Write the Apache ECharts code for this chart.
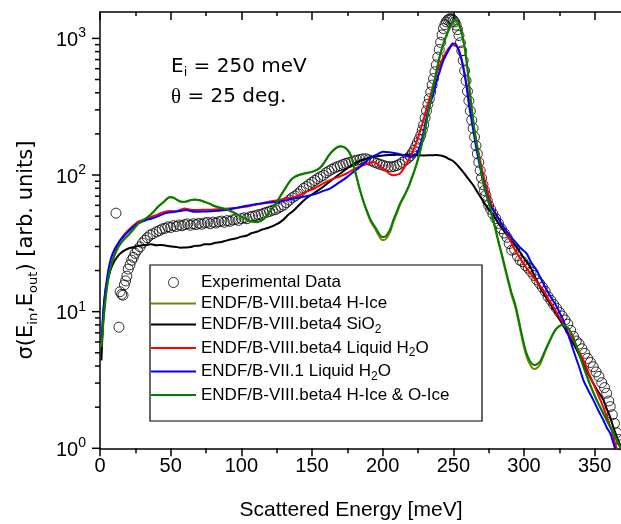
<!DOCTYPE html>
<html><head><meta charset="utf-8">
<script src="https://cdn.jsdelivr.net/npm/echarts@6/dist/echarts.min.js"></script>
<style>html,body{margin:0;padding:0;background:#fff}#c{width:621px;height:524px}</style>
</head><body><div id="c"></div><script>
const FONT = 'Liberation Sans, Arial, sans-serif';
const WIDE = 'DejaVu Sans, Verdana, sans-serif';

const expData = [[11.3,52.6],[13.4,7.7],
[14.2,14],[15.3,13.4],[16.3,13.2],[17.2,15.7],[18.1,16.8],[19,18.2],[20,20.5],[21.2,22],[22.4,23.8],[23.6,25],[24.8,26.7],[26.5,28.3],[28.3,29.8],[30,31.8],[31.8,33.4],[33.5,34.8],[35.4,36.3],[37.5,37.2],[40,38.4],[42,39.2],[44,40.3],[46,40.7],[48,41.8],[50,41.3],[52,42.6],[54,42],[56,43.1],[58,42.5],[60,43.4],[62,43.9],[64,42.9],[66,44],[68,43.4],[70,44.3],[72,43.6],[74,44.6],[76,45],[78,44],[80,45.2],[82,44.5],[84,45.5],[86,46],[88,45.1],[90,46.4],[92,45.8],[94,47],[96,47.4],[98,46.5],[100,48],[102,48.6],[104,47.9],[106,49.4],[108,49.9],[110,50.4],[112,51.2],[114,51.6],[116,52.6],[118,53.4],[120,54.2],[122,55.3],[124,55.8],[126,57.2],[128,58.8],[130,60.2],[132,62.8],[134,65.6],[136,68.2],[138,70.2],[140,72.8],[142,76.2],[144,79.8],[146,82.3],[148,85.4],[150,88.4],[152,91.2],[154,94.3],[156,97.2],[158,99.5],[160,104],[162,107],[164,110.2],[166,112.8],[168,115.2],[170,117],[172,119.5],[174,121.6],[176,123.2],[178,125],[180,127.2],[182,128.6],[184,130],[186,131.2],[188,131.5],[190,129.4],[192,127],[194,124.2],[196,122],[198,120],[200,118],[202,116.2],[204,115],[206,114.8],[208,115.6],[210,117.4],[212,120],[214,124],[216,128.5],[218,133],[219.5,138],[221,145],[222.2,152],[223.4,162],[224.6,172],[225.8,183],[227,196],[228,213],[229,233],[230,262],[231,295],[232,330],[233,362],[234,405],[235,455],[236,508],[237,570],[238,640],[239,730],[240,830],[241,935],[242,1060],[243,1180],[244,1260],[245,1320],[246,1360],[247,1385],[248,1392],[249,1385],[250,1360],[251,1320],[252,1250],[253,1160],[254,1050],[255,930],[256,810],[257,690],[258,580],[259,490],[260,410],[261,350],[262,295],[263,252],[264,220],[265,190],[266,164],[267,143],[268,124],[269,108],[270,95],[271,85],[272,77],[273,71],[274,65],[275,60],[276.5,56],[278,52],[280,48],[282,44.2],[284,40.5],[286,37.6],[288,35],[289.5,31.5],[291.3,28.2],[293.3,28.6],[295.3,25.6],[297.2,23.8],[299,23.2],[301,21.8],[303,20.8],[305,19.6],[307,18.4],[309,17.1],[311,16.1],[313,15.1],[315,14.1],[317,12.9],[319,12.1],[321,11.3],[323,10.6],[325,9.9],[327,9.3],[329,8.7],[331,8.1],[333,7.3],[335,6.6],[337,6.1],[339,5.8],[341,5.35],[343,4.95],[345,4.55],[347,4.25],[349,3.95],[351,3.62],[353,3.36],[355,3.02],[357,2.78],[358.5,2.53],[360,2.22],[361,2.02],[362.5,1.76],[364,1.52],[365.6,1.3],[367,1.16],[368.5,1.06],[370,0.98]];

const hIce = [[1,5.4],[2,7.5],[3,9.9],[4.5,13.9],[6,17.7],[8,21.9],[10,25.4],[13,29.7],[16,32.9],[20,36.2],[24,40.4],[27,43.9],[31,46.9],[34,49.4],[38,53.9],[41,58.4],[45,63.4],[49.5,68.8],[52,68.1],[55,65.3],[58,63.6],[61,63.8],[64,65.3],[67,66],[70,65.4],[74,63.5],[78,61.3],[81,59.1],[86,57.3],[91,55.2],[95,52.8],[98,50.7],[102,48.4],[105,46.6],[108,45.4],[111,45.2],[114,46.2],[117,48.8],[120,53.5],[123,58.7],[126,65.7],[129,73.7],[132,82.6],[135,91.6],[138,97.1],[141,100.1],[145,102.6],[149,104.6],[153,108.2],[156,113.5],[159,124.5],[162,139.4],[165,151.4],[168,159.4],[170,162],[172,160.8],[174,156.3],[176,148.3],[178,134.3],[180,111.4],[182,92.2],[184,76.6],[186.5,63],[188.7,54.2],[191.5,45.8],[194.6,40.4],[197,36.4],[199.3,33.6],[201,33.4],[203,34.8],[205.5,38.8],[207.5,45],[210,52.4],[212.3,60.6],[215,68.8],[218.2,81],[221,97],[224.1,120.5],[226.5,149],[228.8,188.5],[231,243],[233.5,331],[236,446],[238.2,580],[240.5,744],[243,912],[245.5,1072],[247.7,1205],[249.5,1312],[251.2,1366],[253,1312],[254.7,1205],[256.5,1024],[258.3,814],[260,596],[261.8,392],[263.5,278],[265,210],[266.5,168],[268.5,126],[271,89],[273.5,70],[276,57.5],[278,47.2],[279.5,41],[282,31.8],[284.2,26],[286.5,20.6],[288.9,16.4],[291,13.4],[293.6,11],[296,8.6],[298.3,6.6],[300,5.5],[301.8,4.7],[304,4.15],[306,3.86],[307.7,3.8],[309.5,3.9],[311.3,4.1],[313.5,4.65],[316,5.4],[319,6.32],[321.9,7.24],[324.5,7.75],[326.7,7.95],[329,7.86],[331.4,7.5],[333,7.05],[334.9,6.45],[337,5.56],[339.7,4.64],[342.5,3.82],[345.5,3.14],[348.5,2.63],[351.4,2.24],[355,1.89],[358.5,1.6],[362,1.36],[365.6,1.14],[369,0.97]];

const sio2 = [[1,4.4],[1.8,7],[2.5,10.3],[4,14.5],[6,18],[8,21],[10.6,23.8],[14,26.5],[17.7,28.2],[21,29.2],[24.8,29.8],[28,30.4],[31.8,30.7],[36,31.1],[40,30.6],[43.6,30.8],[48,30.2],[53,29.9],[57,29.4],[60,29.5],[64,29.7],[67,30.3],[71,30.5],[74,31.2],[78,31.2],[81,31.8],[86,32.4],[91,33.5],[96,34.3],[100,35.4],[104,36.1],[107,37.5],[111,38.4],[114,39.6],[119,41.1],[124,43.1],[129,46.4],[133,50.9],[137,55],[140,59],[146,67.5],[152,74.5],[158,82],[164,92],[170,102.6],[176,114],[181.6,124],[187,130.5],[193,135.5],[199,138.5],[205,140],[211,140.5],[217,140],[223,139.5],[229,139],[234,139.5],[238,140],[241,139],[244,136],[247,131],[250,126],[253.5,116],[257,105],[260.5,94],[264,84.5],[267,75],[270,67],[274,58],[278,51.5],[281.5,45],[285.4,39.5],[290,34],[294.8,29.8],[299.5,25],[304.3,21.3],[308,17.8],[311.3,15.2],[315,13],[318.4,11.5],[322,10],[325.5,8.7],[330,7.2],[334.9,5.86],[338.5,4.95],[342,4.19],[345.5,3.5],[349,2.99],[352.5,2.6],[356.1,2.26],[358.5,1.95],[360.9,1.7],[363,1.45],[365.6,1.22],[369,1.0]];

const liqH2O8 = [[1,5.5],[2,8],[3.5,12.2],[5,16.5],[7,20.5],[8.3,22.6],[10.5,27],[13,31.6],[16,35.5],[20,39.5],[24,43],[27,45.5],[32,47.5],[36.6,49.5],[41,51.5],[46,53.8],[50,54.5],[53,54.2],[56,55.2],[60,57],[63,56],[67,55.4],[72,55.6],[79,55.8],[85,56.4],[91,57],[97,57.6],[102.6,58.5],[108,60],[114.4,62],[120,64],[126,65.5],[132,67.5],[138,69.2],[146,75.4],[152,80],[158,86.8],[164,93],[170,98],[174.5,102.6],[180,111],[186,118],[190,122],[193.4,124.5],[196,121],[198,116],[200.5,111.7],[203,106],[205.5,101],[207.5,99.8],[210,100.5],[212.3,102.6],[214.5,110],[217,121.6],[219.5,136],[221.7,152],[223.5,170],[225.2,190],[227,218],[228.8,252],[231,305],[233.5,373],[236,460],[238.2,554],[240.5,640],[243,732],[245.5,810],[247.7,867],[250,892],[251.8,880],[253.5,843],[255.3,740],[257.1,619],[259.5,450],[261.8,315],[264,235],[266.5,172],[269,128],[271.2,100],[274,78],[276.5,63],[278.3,55.4],[282,47.5],[285.4,41.8],[289,35.5],[292.4,29.8],[296,25.8],[299.5,22.6],[303,20],[306.6,18],[310,16],[313.6,14.4],[317,12.5],[320.7,10.9],[324,9.5],[327.8,8.2],[331,7.1],[334.9,6.2],[338.5,5.2],[342,4.43],[345.5,3.6],[349,2.99],[352.5,2.45],[356.1,2.0],[359,1.65],[362,1.36],[364.4,1.09],[366,0.95]];

const liqH2O7 = [[1,5.9],[2,9],[3.5,13.5],[5,17.5],[5.9,20.2],[8,25],[10.6,29],[14,33],[17.7,36.3],[22,40.5],[27,44.3],[32,46.5],[36.6,48.1],[41,50],[46,52.4],[50,53.5],[53,53.8],[57,54.5],[61.3,55.4],[64,54.5],[67,53.8],[72,54],[79,54.2],[85,55],[90.8,55.8],[97,57.5],[102.6,59.3],[108,60.5],[114.4,62],[120,63],[126,63.7],[132,65.5],[138,67.5],[146,70],[152,72.5],[158,76.5],[163,80],[169.8,89],[175,97],[181.6,110],[186.3,120],[191,133],[195.7,141],[200.5,148],[205,146.5],[209.9,144],[214,140],[219.3,136],[222,138],[224.1,144],[226,158],[227.6,180],[229.5,220],[231.1,266],[233.5,330],[235.9,395],[238.2,490],[240.6,585],[243,690],[245.3,770],[247.5,850],[249.5,918],[251,915],[252.3,892],[254,800],[255.9,692],[257.7,560],[259.4,442],[261,330],[262.9,252],[264.7,195],[266.5,152],[268.5,120],[271.2,90],[274,70],[276.5,59],[278.3,55.4],[282,48],[285.4,41.8],[290,36],[294.8,31.6],[298,29],[301.8,26.7],[305,23],[308.9,20.2],[312.5,17],[316,14.4],[319.5,12.5],[323.1,10.9],[325.5,9.7],[327.8,8.7],[330,7.4],[332.6,6.2],[335,5.2],[337.3,4.43],[339.7,3.75],[342,3.16],[345.5,2.65],[349,2.26],[352.5,1.9],[356.1,1.61],[358.5,1.42],[360.9,1.29],[363.3,1.09],[365,0.95]];

const hoIce = [[1,5.5],[2,7.6],[3,10],[4.5,14],[6,17.8],[8,22],[10,25.5],[13,29.8],[16,33],[20,36.3],[24,40.5],[27,44],[31,47],[34,49.5],[38,54],[41,58.5],[45,63.5],[49.5,69],[52,68.3],[55,65.5],[58,63.8],[61,64],[64,65.5],[67,66.2],[70,65.6],[74,63.7],[78,61.5],[81,59.3],[86,57.5],[91,55.4],[95,53],[98,50.9],[102,48.6],[105,46.8],[108,45.6],[111,45.4],[114,46.4],[117,49],[120,53.8],[123,59],[126,66],[129,74],[132,83],[135,92],[138,97.5],[141,100.5],[145,103],[149,105],[153,108.6],[156,114],[159,125],[162,140],[165,152],[168,160],[170,162.7],[172,161.5],[174,157],[176,149],[178,135],[180,112],[182,93],[184,77.6],[186.5,64],[188.7,55.4],[191.5,47],[194.6,41.8],[197,38],[199.3,35.3],[201,35.2],[203,36.5],[205.5,40.5],[207.5,46.8],[210,54],[212.3,62],[215,70],[218.2,82],[221,98],[224.1,121.6],[226.5,150],[228.8,190],[231,245],[233.5,334],[236,450],[238.2,585],[240.5,750],[243,918],[245.5,1080],[247.7,1213],[249.5,1320],[251.2,1375],[253,1320],[254.7,1213],[256.5,1030],[258.3,820],[260,600],[261.8,395],[263.5,280],[265,212],[266.5,170],[268.5,128],[271,90],[273.5,71],[276,58.5],[278,48],[279.5,41.8],[282,32.5],[284.2,26.7],[286.5,21.3],[288.9,17],[291,14],[293.6,11.5],[296,9],[298.3,6.9],[300,5.8],[301.8,4.95],[304,4.4],[306,4.12],[307.7,4.07],[309.5,4.15],[311.3,4.3],[313.5,4.8],[316,5.5],[319,6.4],[321.9,7.3],[324.5,7.8],[326.7,8.0],[329,7.9],[331.4,7.55],[333,7.1],[334.9,6.5],[337,5.6],[339.7,4.68],[342.5,3.85],[345.5,3.16],[348.5,2.65],[351.4,2.26],[355,1.9],[358.5,1.61],[362,1.37],[365.6,1.15],[369,0.98]];

const seriesNames = ['Experimental Data','ENDF/B-VIII.beta4 H-Ice','ENDF/B-VIII.beta4 SiO2','ENDF/B-VIII.beta4 Liquid H2O','ENDF/B-VII.1 Liquid H2O','ENDF/B-VIII.beta4 H-Ice & O-Ice'];
const legendRich = {
  'ENDF/B-VIII.beta4 SiO2': '{t|ENDF/B-VIII.beta4 SiO}{u|2}',
  'ENDF/B-VIII.beta4 Liquid H2O': '{t|ENDF/B-VIII.beta4 Liquid H}{u|2}{t|O}',
  'ENDF/B-VII.1 Liquid H2O': '{t|ENDF/B-VII.1 Liquid H}{u|2}{t|O}'
};
const yMajorTicks = [1, 10, 100, 1000];
const yMinorTicks = [2,3,4,5,6,7,8,9,20,30,40,50,60,70,80,90,200,300,400,500,600,700,800,900];
const xMin = 0, xMax = 375, xStep = 50;
const yMin = 1, yMax = 1560;

const chart = echarts.init(document.getElementById('c'), null, {renderer:'canvas'});

function lineSeries(name, data, color){
  return {name, type:'line', data, symbol:'none', showSymbol:false, smooth:0.35,
    lineStyle:{color, width:2}, itemStyle:{color}, z:3, animation:false, silent:true};
}
function tickSeries(vals, len){
  return {type:'custom', coordinateSystem:'cartesian2d', silent:true, clip:false, z:5,
    data: vals.map(v => [xMin, v]),
    renderItem:(params, api) => {
      const p = api.coord([api.value(0), api.value(1)]);
      return {type:'line', shape:{x1:p[0]-len, y1:p[1], x2:p[0], y2:p[1]}, style:{stroke:'#000', lineWidth:1.5}};
    }};
}

const legendData = seriesNames.map((n, i) => i === 0
  ? {name:n, itemStyle:{color:'rgba(0,0,0,0)', borderColor:'#000', borderWidth:1}}
  : {name:n, itemStyle:{color:'rgba(0,0,0,0)', borderColor:'rgba(0,0,0,0)', borderWidth:0, opacity:0}});

chart.setOption({
  animation:false,
  backgroundColor:'#fff',
  grid:{left:100, top:12, width:530, height:436.3, outerBoundsMode:'none', containLabel:false},
  xAxis:[{
    type:'value', min:xMin, max:xMax, interval:xStep, position:'bottom',
    axisLine:{show:true, onZero:false, lineStyle:{color:'#000', width:1.5}},
    axisTick:{show:true, inside:false, length:8, lineStyle:{color:'#000', width:1.5}},
    minorTick:{show:true, splitNumber:2, length:5, lineStyle:{color:'#000', width:1.5}},
    axisLabel:{show:true, color:'#000', fontSize:20, fontFamily:FONT, margin:8, showMaxLabel:false},
    splitLine:{show:false}, minorSplitLine:{show:false}
  },{
    type:'value', min:xMin, max:xMax, interval:xStep, position:'top',
    axisLine:{show:true, onZero:false, lineStyle:{color:'#000', width:1.5}},
    axisTick:{show:true, inside:true, length:8, lineStyle:{color:'#000', width:1.5}},
    minorTick:{show:true, splitNumber:2, length:4, lineStyle:{color:'#000', width:1.5}},
    axisLabel:{show:false}, splitLine:{show:false}
  }],
  yAxis:{
    type:'log', logBase:10, min:yMin, max:yMax,
    axisLine:{show:true, onZero:false, lineStyle:{color:'#000', width:1.5}},
    axisTick:{show:false}, minorTick:{show:false}, splitLine:{show:false},
    axisLabel:{show:true, margin:14, color:'#000', fontFamily:FONT, showMaxLabel:false,
      formatter:(v) => {
        const l = Math.log10(v), e = Math.round(l);
        if (Math.abs(l - e) > 1e-6) return '';
        return '{b|10}{s|' + e + '}';
      },
      rich:{b:{fontSize:20, fontFamily:FONT, color:'#000', lineHeight:24, padding:[4,0,0,0]},
            s:{fontSize:14, fontFamily:FONT, color:'#000', verticalAlign:'top', lineHeight:14}}
    }
  },
  legend:{
    show:true, orient:'vertical', left:150, top:274, padding:0, itemGap:4,
    itemWidth:45, itemHeight:10, selectedMode:false,
    data: legendData,
    formatter:(n) => legendRich[n] || ('{t|' + n + '}'),
    textStyle:{color:'#000', fontSize:17, fontFamily:FONT,
      rich:{t:{fontSize:17, fontFamily:FONT, color:'#000', lineHeight:22},
            u:{fontSize:12, fontFamily:FONT, color:'#000', lineHeight:5, verticalAlign:'bottom'}}}
  },
  graphic:[
    {type:'rect', shape:{x:150, y:265, width:332, height:156}, style:{fill:'none', stroke:'#000', lineWidth:1.2}, z:1, silent:true},
    {type:'text', x:171, y:67, silent:true, style:{
      text:'{m|E}{u|i}{m| = 250 meV}', verticalAlign:'middle', align:'left',
      rich:{m:{fontSize:20, fontFamily:WIDE, fill:'#000', lineHeight:24}, u:{fontSize:13, fontFamily:WIDE, fill:'#000', lineHeight:6, verticalAlign:'bottom'}}}},
    {type:'text', x:171, y:97, silent:true, style:{
      text:'{g|θ}{m| = 25 deg.}', verticalAlign:'middle', align:'left',
      rich:{m:{fontSize:20, fontFamily:WIDE, fill:'#000', lineHeight:24}, g:{fontSize:21, fontFamily:'Liberation Serif, serif', fill:'#000', lineHeight:24}}}},
    {type:'text', x:351, y:510, silent:true, style:{
      text:'Scattered Energy [meV]', fontSize:21, fontFamily:FONT, fill:'#000', align:'center', verticalAlign:'middle'}},
    {type:'text', x:27, y:250, rotation:Math.PI/2, silent:true, style:{
      text:'{m|σ(E}{u|in}{m|,E}{u|out}{m|) [arb. units]}', align:'center', verticalAlign:'middle',
      rich:{m:{fontSize:21, fontFamily:WIDE, fill:'#000', lineHeight:26}, u:{fontSize:13, fontFamily:WIDE, fill:'#000', lineHeight:6, verticalAlign:'bottom'}}}}
  ],
  series:[
    {name:seriesNames[0], type:'scatter', data:expData, symbol:'circle', symbolSize:10,
      itemStyle:{color:'rgba(0,0,0,0)', borderColor:'#000', borderWidth:1}, z:2, silent:true},
    lineSeries(seriesNames[1], hIce, '#808000'),
    lineSeries(seriesNames[2], sio2, '#000000'),
    lineSeries(seriesNames[3], liqH2O8, '#ff0000'),
    lineSeries(seriesNames[4], liqH2O7, '#0000ff'),
    lineSeries(seriesNames[5], hoIce, '#008000'),
    tickSeries(yMajorTicks, 8),
    tickSeries(yMinorTicks, 5)
  ]
});
</script></body></html>
